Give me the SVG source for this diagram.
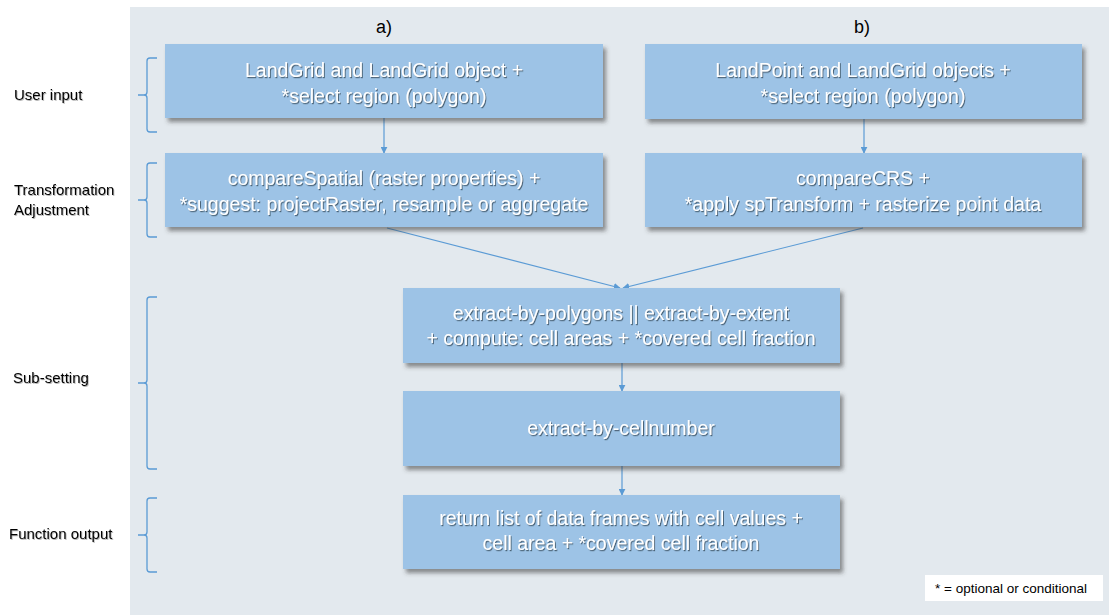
<svg xmlns="http://www.w3.org/2000/svg" width="1109" height="615" viewBox="0 0 1109 615">
  <defs>
    <filter id="boxShadow" x="-5%" y="-10%" width="115%" height="130%">
      <feDropShadow dx="3" dy="4" stdDeviation="2" flood-color="#3a3a3a" flood-opacity="0.55"/>
    </filter>
    <filter id="textShadow" x="-5%" y="-20%" width="110%" height="150%">
      <feDropShadow dx="1" dy="1.2" stdDeviation="0.7" flood-color="#2b3a48" flood-opacity="0.7"/>
    </filter>
    <filter id="labelShadow" x="-5%" y="-20%" width="110%" height="150%">
      <feDropShadow dx="0.8" dy="1" stdDeviation="0.6" flood-color="#000" flood-opacity="0.3"/>
    </filter>
    <marker id="arrow" viewBox="0 0 10 10" refX="9" refY="5" markerWidth="7" markerHeight="7" markerUnits="userSpaceOnUse" orient="auto">
      <path d="M0,0 L10,5 L0,10 z" fill="#5b9bd5"/>
    </marker>
  </defs>
  <style>
    .box { fill: #9dc3e6; filter: url(#boxShadow); }
    .boxText { font-family: "Liberation Sans", Arial, sans-serif; font-size: 19.5px; fill: #ffffff; text-anchor: middle; filter: url(#textShadow); }
    .label { font-family: "Liberation Sans", Arial, sans-serif; font-size: 15px; fill: #000000; filter: url(#labelShadow); }
    .head { font-family: "Liberation Sans", Arial, sans-serif; font-size: 18px; fill: #000000; text-anchor: middle; }
    .brace { fill: none; stroke: #5b9bd5; stroke-width: 1.3; }
    .conn { fill: none; stroke: #5b9bd5; stroke-width: 1.2; marker-end: url(#arrow); }
    .legendText { font-family: "Liberation Sans", Arial, sans-serif; font-size: 13.5px; fill: #000000; }
  </style>

  <!-- page and panel -->
  <rect x="0" y="0" width="1109" height="615" fill="#ffffff"/>
  <rect x="130" y="7" width="979" height="608" fill="#e3e9ee"/>

  <!-- column headings -->
  <text class="head" x="384" y="33">a)</text>
  <text class="head" x="862" y="33">b)</text>

  <!-- stage labels -->
  <g id="stage-labels">
    <text class="label" x="14" y="100">User input</text>
    <text class="label" x="14" y="195">Transformation</text>
    <text class="label" x="14" y="215">Adjustment</text>
    <text class="label" x="13" y="383">Sub-setting</text>
    <text class="label" x="9" y="539">Function output</text>
  </g>

  <!-- braces -->
  <g id="braces">
    <path class="brace" d="M157,58 L150,58 Q147,58 147,61 L147,92 Q147,95 144,95 L138,95 M144,95 Q147,95 147,98 L147,129 Q147,132 150,132 L157,132"/>
    <path class="brace" d="M157,163 L150,163 Q147,163 147,166 L147,197 Q147,200 144,200 L138,200 M144,200 Q147,200 147,203 L147,234 Q147,237 150,237 L157,237"/>
    <path class="brace" d="M157,297 L150,297 Q147,297 147,300 L147,380 Q147,383 144,383 L138,383 M144,383 Q147,383 147,386 L147,466 Q147,469 150,469 L157,469"/>
    <path class="brace" d="M157,498 L150,498 Q147,498 147,501 L147,532 Q147,535 144,535 L138,535 M144,535 Q147,535 147,538 L147,569 Q147,572 150,572 L157,572"/>
  </g>

  <!-- connectors -->
  <g id="connectors">
    <line class="conn" x1="384" y1="118" x2="384" y2="153"/>
    <line class="conn" x1="864" y1="119" x2="864" y2="153"/>
    <line class="conn" x1="387" y1="228" x2="620" y2="288"/>
    <line class="conn" x1="863" y1="228" x2="623" y2="288"/>
    <line class="conn" x1="622" y1="363" x2="622" y2="391"/>
    <line class="conn" x1="622" y1="466" x2="622" y2="495"/>
  </g>

  <!-- nodes -->
  <g id="node-a-input">
    <rect class="box" x="165" y="44" width="438" height="74"/>
    <text class="boxText" x="384" y="77">LandGrid and LandGrid object +</text>
    <text class="boxText" x="384" y="103">*select region (polygon)</text>
  </g>
  <g id="node-b-input">
    <rect class="box" x="645" y="44" width="437" height="75"/>
    <text class="boxText" x="863" y="77">LandPoint and LandGrid objects +</text>
    <text class="boxText" x="863" y="103">*select region (polygon)</text>
  </g>
  <g id="node-a-transform">
    <rect class="box" x="165" y="153" width="438" height="74"/>
    <text class="boxText" x="384" y="185">compareSpatial (raster properties) +</text>
    <text class="boxText" x="384" y="211">*suggest: projectRaster, resample or aggregate</text>
  </g>
  <g id="node-b-transform">
    <rect class="box" x="645" y="153" width="437" height="74"/>
    <text class="boxText" x="863" y="185">compareCRS +</text>
    <text class="boxText" x="863" y="211">*apply spTransform + rasterize point data</text>
  </g>
  <g id="node-extract-polygons">
    <rect class="box" x="403" y="288" width="437" height="75"/>
    <text class="boxText" x="621" y="320">extract-by-polygons || extract-by-extent</text>
    <text class="boxText" x="621" y="345">+ compute: cell areas + *covered cell fraction</text>
  </g>
  <g id="node-extract-cellnumber">
    <rect class="box" x="403" y="391" width="437" height="75"/>
    <text class="boxText" x="621" y="435">extract-by-cellnumber</text>
  </g>
  <g id="node-output">
    <rect class="box" x="403" y="495" width="437" height="74"/>
    <text class="boxText" x="621" y="525">return list of data frames with cell values +</text>
    <text class="boxText" x="621" y="550">cell area + *covered cell fraction</text>
  </g>

  <!-- legend -->
  <g id="legend">
    <rect x="925" y="575" width="178" height="26" fill="#ffffff"/>
    <text class="legendText" x="935" y="593">* = optional or conditional</text>
  </g>
</svg>
